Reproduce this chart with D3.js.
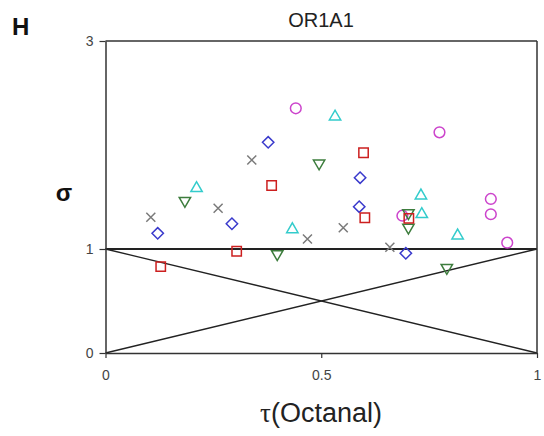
<!DOCTYPE html>
<html><head><meta charset="utf-8">
<script src="https://cdn.jsdelivr.net/npm/d3@7"></script>
<style>body{margin:0;background:#fff}svg{display:block;font-family:"Liberation Sans",Arial,sans-serif}</style>
</head><body>
<svg id="c" width="544" height="436"></svg>
<script>
const title = "OR1A1";
const panelLabel = "H";
const xTicks = [0, 0.5, 1];
const xTickLabels = ["0", "0.5", "1"];
const yTicks = [0, 1, 3];
const yTickLabels = ["0", "1", "3"];

const grayX = [[0.105,1.305],[0.261,1.391],[0.339,1.856],[0.468,1.096],[0.551,1.205],[0.659,1.016]];
const blueDiamond = [[0.121,1.151],[0.293,1.243],[0.377,2.026],[0.590,1.686],[0.588,1.407],[0.696,0.959]];
const redSquare = [[0.128,0.830],[0.304,0.978],[0.385,1.611],[0.598,1.926],[0.601,1.301],[0.703,1.295]];
const greenDown = [[0.184,1.464],[0.398,0.952],[0.495,1.824],[0.702,1.346],[0.702,1.207],[0.791,0.820]];
const cyanUp = [[0.211,1.584],[0.433,1.189],[0.532,2.272],[0.731,1.513],[0.733,1.334],[0.816,1.128]];
const magentaCircle = [[0.441,2.353],[0.774,2.122],[0.893,1.481],[0.893,1.334],[0.688,1.320],[0.931,1.061]];

const svg = d3.select("#c");
const x = d3.scaleLinear().domain([0,1]).range([105.5,537]);
const y = d3.scaleLinear().domain([0,3]).range([353,41]);
const ink = "#333";

// reference lines
const g = svg.append("g");
g.append("line").attr("x1",x(0)).attr("x2",x(1)).attr("y1",y(1)).attr("y2",y(0))
  .attr("stroke","#222").attr("stroke-width",1.3);
g.append("line").attr("x1",x(0)).attr("x2",x(1)).attr("y1",y(0)).attr("y2",y(1))
  .attr("stroke","#222").attr("stroke-width",1.3);
g.append("line").attr("x1",x(0)).attr("x2",x(1)).attr("y1",y(1)).attr("y2",y(1))
  .attr("stroke","#222").attr("stroke-width",2);

// frame top/right
svg.append("line").attr("x1",x(0)).attr("x2",x(1)).attr("y1",y(3)).attr("y2",y(3)).attr("stroke",ink).attr("stroke-width",1.5);
svg.append("line").attr("x1",x(1)).attr("x2",x(1)).attr("y1",y(3)).attr("y2",y(0)).attr("stroke",ink).attr("stroke-width",1.5);

// axes
const xAxis = d3.axisBottom(x).tickValues(xTicks).tickFormat((d,i)=>xTickLabels[i]).tickSize(5).tickSizeOuter(0).tickPadding(12);
const yAxis = d3.axisLeft(y).tickValues(yTicks).tickFormat((d,i)=>yTickLabels[i]).tickSize(6).tickSizeOuter(0).tickPadding(6);
const xa = svg.append("g").attr("transform",`translate(0,${y(0)})`).call(xAxis);
const ya = svg.append("g").attr("transform",`translate(${x(0)},0)`).call(yAxis);
[xa,ya].forEach(a=>{
  a.select(".domain").attr("stroke",ink).attr("stroke-width",1.5);
  a.selectAll(".tick line").attr("stroke",ink).attr("stroke-width",1.2);
  a.selectAll(".tick text").attr("fill","#444").attr("font-size",14).attr("font-family","Liberation Sans, Arial, sans-serif");
});

// markers
function addSeries(data, shape, color, size){
  const sym = d3.symbol().type(shape).size(size);
  svg.append("g").selectAll("path").data(data).join("path")
    .attr("d", sym)
    .attr("transform", d=>`translate(${x(d[0])},${y(d[1])})`)
    .attr("fill","none").attr("stroke",color).attr("stroke-width",1.5);
}
const triDown = {draw(ctx,size){const s=Math.sqrt(size/ (Math.sqrt(3)/4)); const h=s*Math.sqrt(3)/2; ctx.moveTo(-s/2,-h/3); ctx.lineTo(s/2,-h/3); ctx.lineTo(0,2*h/3); ctx.closePath();}};
const triUp = {draw(ctx,size){const s=Math.sqrt(size/ (Math.sqrt(3)/4)); const h=s*Math.sqrt(3)/2; ctx.moveTo(-s/2,h/3); ctx.lineTo(s/2,h/3); ctx.lineTo(0,-2*h/3); ctx.closePath();}};
const diamond = {draw(ctx,size){const r=Math.sqrt(size)/2; ctx.moveTo(0,-r); ctx.lineTo(r,0); ctx.lineTo(0,r); ctx.lineTo(-r,0); ctx.closePath();}};
const cross = {draw(ctx,size){const r=Math.sqrt(size)/2; ctx.moveTo(-r,-r); ctx.lineTo(r,r); ctx.moveTo(r,-r); ctx.lineTo(-r,r);}};

addSeries(grayX, cross, "#7a7a7a", 81);
addSeries(magentaCircle, d3.symbolCircle, "#cc44cc", 90);
addSeries(cyanUp, triUp, "#33cccc", 56);
addSeries(greenDown, triDown, "#3d7d3d", 56);
addSeries(blueDiamond, diamond, "#3a3acc", 130);
addSeries(redSquare, d3.symbolSquare, "#cc1f1f", 88);

// texts
svg.append("text").attr("x",321).attr("y",27).attr("text-anchor","middle").attr("font-size",20).attr("fill","#222").text(title);
svg.append("text").attr("x",12).attr("y",35).attr("font-size",24).attr("font-weight","bold").attr("fill","#111").text(panelLabel);
svg.append("text").attr("x",64).attr("y",201).attr("text-anchor","middle").attr("font-size",24).attr("font-weight","bold").attr("fill","#111").text("σ");
const xl = svg.append("text").attr("x",321).attr("y",422).attr("text-anchor","middle").attr("font-size",27).attr("fill","#222");
xl.append("tspan").attr("font-family","Liberation Serif, Times New Roman, serif").text("τ");
xl.append("tspan").text("(Octanal)");
</script>
</body></html>
